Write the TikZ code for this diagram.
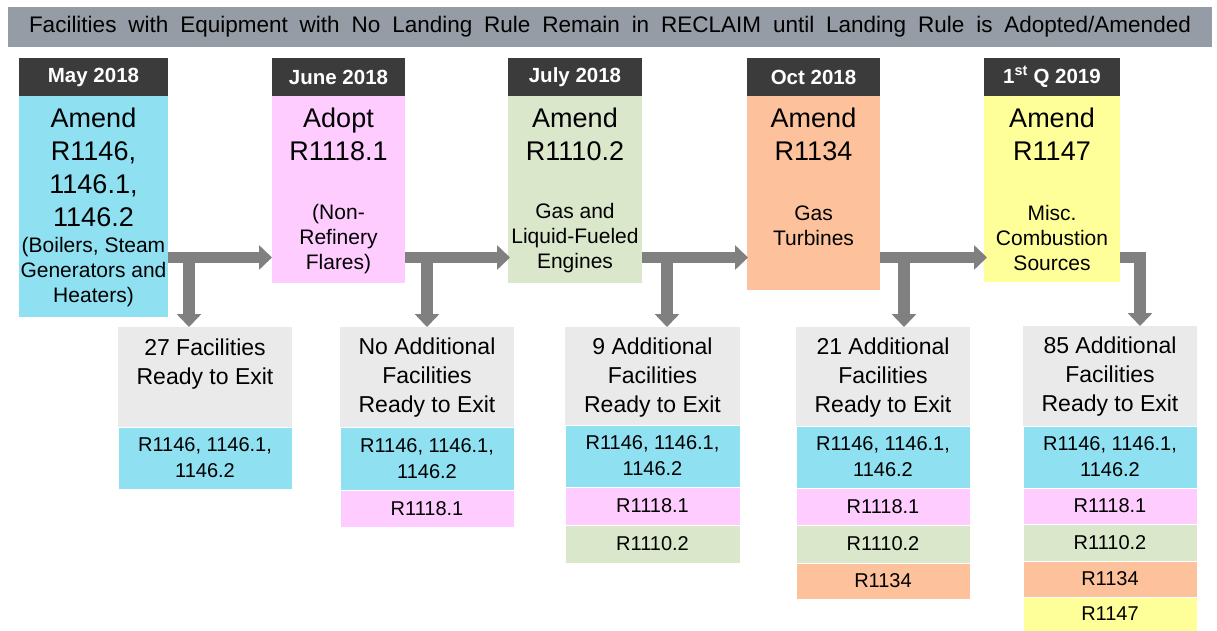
\documentclass[tikz,border=0pt]{standalone}
\usepackage{fontspec}
\setmainfont{Liberation Sans}
\usetikzlibrary{arrows.meta}
\definecolor{bannergray}{HTML}{959CA6}
\definecolor{hdr}{HTML}{3B3B3B}
\definecolor{ccyan}{HTML}{8FE0F1}
\definecolor{cpink}{HTML}{FFCCFF}
\definecolor{cgreen}{HTML}{DAE7CB}
\definecolor{corange}{HTML}{FDC29B}
\definecolor{cyellow}{HTML}{FFFF99}
\definecolor{cgray}{HTML}{EAEAEA}
\definecolor{arrowgray}{HTML}{808080}
\newcommand\mksect[8]{\node[fill=#6, draw=none, inner sep=0pt, outer sep=0pt, align=center,
  minimum width={(#4-#2)*1pt}, minimum height={(#5-#3)*1pt}, #8] (#1) at ({(#2+#4)/2},{(#3+#5)/2}) {#7};}
\tikzset{
  hdrtxt/.style={text=white, font=\bfseries\fontsize{20.5}{24}\selectfont},
  bigtxt/.style={inner sep=0pt, align=center, font=\fontsize{27}{33}\selectfont},
  smalltxt/.style={inner sep=0pt, align=center, font=\fontsize{21}{25}\selectfont},
  exittxt/.style={inner sep=0pt, align=center, font=\fontsize{23}{29}\selectfont},
  ruletxt/.style={font=\fontsize{20}{26}\selectfont, draw=white, line width=0.8pt},
  bigarrow/.style={draw=arrowgray, line width=11.5pt, line join=miter, -{Triangle[width=24pt,length=13pt]}}
}
\begin{document}
\begin{tikzpicture}[x=1pt,y=-1pt]
\useasboundingbox[fill=white] (0,0) rectangle (1217,631);
% banner
\mksect{banner}{8}{7}{1212}{47}{bannergray}{\makebox[1162pt][s]{Facilities with Equipment with No Landing Rule Remain in RECLAIM until Landing Rule is Adopted/Amended}}{font=\fontsize{22.5}{26}\selectfont}
% headers
\mksect{h1}{19}{58}{168}{96}{hdr}{May 2018}{hdrtxt}
\mksect{h2}{272}{58}{405}{96}{hdr}{June 2018}{hdrtxt}
\mksect{h3}{508}{58}{642}{96}{hdr}{July 2018}{hdrtxt}
\mksect{h4}{747}{58}{880}{96}{hdr}{Oct 2018}{hdrtxt}
\mksect{h5}{984}{58}{1120}{96}{hdr}{1\textsuperscript{st} Q 2019}{hdrtxt}
% bodies
\mksect{b1}{19}{96}{168}{317}{ccyan}{}{}
\mksect{b2}{272}{96}{405}{283}{cpink}{}{}
\mksect{b3}{508}{96}{642}{283}{cgreen}{}{}
\mksect{b4}{747}{96}{880}{290}{corange}{}{}
\mksect{b5}{984}{96}{1120}{282}{cyellow}{}{}
\node[bigtxt] (t1) at (93.5,167.5) {Amend\\R1146,\\1146.1,\\1146.2};
\node[smalltxt] (s1) at (93.5,272) {(Boilers, Steam\\Generators and\\Heaters)};
\node[bigtxt] (t2) at (338.5,134) {Adopt\\R1118.1};
\node[smalltxt] (s2) at (338.5,239) {(Non-\\Refinery\\Flares)};
\node[bigtxt] (t3) at (575,134) {Amend\\R1110.2};
\node[smalltxt] (s3) at (575,238) {Gas and\\Liquid-Fueled\\Engines};
\node[bigtxt] (t4) at (813.5,134) {Amend\\R1134};
\node[smalltxt] (s4) at (813.5,225.5) {Gas\\Turbines};
\node[bigtxt] (t5) at (1052,134) {Amend\\R1147};
\node[smalltxt] (s5) at (1052,238) {Misc.\\Combustion\\Sources};
% bottom boxes
\mksect{f1g}{118}{327}{292}{427}{cgray}{}{}
\mksect{f1a}{118}{427}{292}{489}{ccyan}{R1146, 1146.1,\\1146.2}{ruletxt}
\node[exittxt] (e1) at (205,364) {27 Facilities\\Ready to Exit};
\mksect{f2g}{340}{327}{514}{427}{cgray}{}{}
\mksect{f2a}{340}{427}{514}{490}{ccyan}{R1146, 1146.1,\\1146.2}{ruletxt}
\mksect{f2b}{340}{490}{514}{527}{cpink}{R1118.1}{ruletxt}
\node[exittxt] (e2) at (427,378) {No Additional\\Facilities\\Ready to Exit};
\mksect{f3g}{565}{327}{740}{425}{cgray}{}{}
\mksect{f3a}{565}{425}{740}{487}{ccyan}{R1146, 1146.1,\\1146.2}{ruletxt}
\mksect{f3b}{565}{487}{740}{525}{cpink}{R1118.1}{ruletxt}
\mksect{f3c}{565}{525}{740}{563}{cgreen}{R1110.2}{ruletxt}
\node[exittxt] (e3) at (652.5,378) {9 Additional\\Facilities\\Ready to Exit};
\mksect{f4g}{796}{327}{970}{426}{cgray}{}{}
\mksect{f4a}{796}{426}{970}{488}{ccyan}{R1146, 1146.1,\\1146.2}{ruletxt}
\mksect{f4b}{796}{488}{970}{525}{cpink}{R1118.1}{ruletxt}
\mksect{f4c}{796}{525}{970}{563}{cgreen}{R1110.2}{ruletxt}
\mksect{f4d}{796}{563}{970}{599}{corange}{R1134}{ruletxt}
\node[exittxt] (e4) at (883,378) {21 Additional\\Facilities\\Ready to Exit};
\mksect{f5g}{1023}{326}{1197}{426}{cgray}{}{}
\mksect{f5a}{1023}{426}{1197}{488}{ccyan}{R1146, 1146.1,\\1146.2}{ruletxt}
\mksect{f5b}{1023}{488}{1197}{524}{cpink}{R1118.1}{ruletxt}
\mksect{f5c}{1023}{524}{1197}{561}{cgreen}{R1110.2}{ruletxt}
\mksect{f5d}{1023}{561}{1197}{597}{corange}{R1134}{ruletxt}
\mksect{f5e}{1023}{597}{1197}{631}{cyellow}{R1147}{ruletxt}
\node[exittxt] (e5) at (1110,377) {85 Additional\\Facilities\\Ready to Exit};
% arrows
\coordinate (row) at (0,257.5);
\coordinate (v1) at (189,0);
\coordinate (v2) at (427,0);
\coordinate (v3) at (667,0);
\coordinate (v4) at (904,0);
\coordinate (v5) at (1140,0);
\draw[bigarrow] (b1.east |- row) -- (b2.west |- row);
\draw[bigarrow] (b2.east |- row) -- ([xshift=2pt]b3.west |- row);
\draw[bigarrow] (b3.east |- row) -- ([xshift=1pt]b4.west |- row);
\draw[bigarrow] (b4.east |- row) -- ([xshift=3pt]b5.west |- row);
\draw[bigarrow] (v1 |- row) -- (v1 |- f1g.north);
\draw[bigarrow] (v2 |- row) -- (v2 |- f2g.north);
\draw[bigarrow] (v3 |- row) -- (v3 |- f3g.north);
\draw[bigarrow] (v4 |- row) -- (v4 |- f4g.north);
\draw[bigarrow] (b5.east |- row) -| (v5 |- f5g.north);
\end{tikzpicture}
\end{document}
